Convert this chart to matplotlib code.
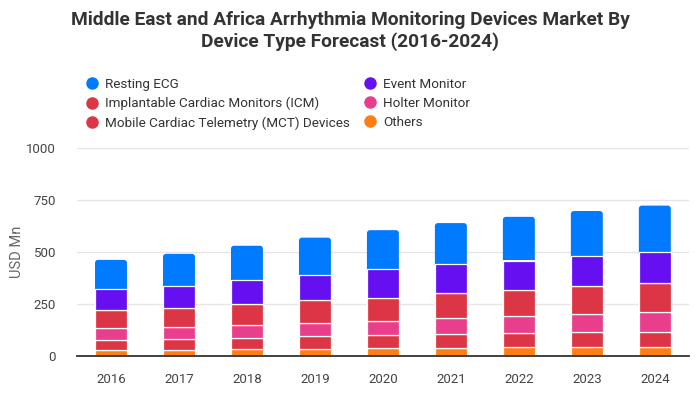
import matplotlib
matplotlib.use("Agg")
from matplotlib import pyplot as plt
from matplotlib.patches import FancyBboxPatch
from matplotlib.lines import Line2D
import numpy as np

plt.rcParams["font.family"] = ["Roboto", "DejaVu Sans"]

# data (USD Mn)
years = ["2016", "2017", "2018", "2019", "2020", "2021", "2022", "2023", "2024"]
others = [27, 27, 34, 32, 37, 37, 43, 43, 43]
mct = [50, 53, 51, 64, 62, 67, 67, 71, 71]
holter = [56, 58, 63, 63, 67, 79, 80, 88, 96]
icm = [87, 91, 101, 110, 115, 118, 126, 133, 141]
event = [101, 108, 115, 119, 135, 140, 143, 144, 147]
resting = [141, 154, 166, 181, 189, 198, 210, 218, 225]

c_blue = "#007bff"
c_purple = "#6610f2"
c_red = "#dc3545"
c_pink = "#e83e8c"
c_orange = "#fd7e14"

fig = plt.figure(figsize=(7, 4), dpi=100)
ax = fig.add_axes([0.11, 0.11, 0.874, 0.52])

x = np.arange(len(years))
w = 0.47

# stack from the bottom up
stack = [(others, c_orange), (mct, c_red), (holter, c_pink), (icm, c_red), (event, c_purple)]
bottom = np.zeros(len(years))
for vals, col in stack:
    ax.bar(x, vals, w, bottom=bottom, color=col, edgecolor="white", linewidth=0.9, zorder=3)
    bottom = bottom + np.array(vals)

# top segment with rounded top corners
ypx = 1000 / 208.0
xpx = 1 / 68.0
for xi, b, v in zip(x, bottom, resting):
    p = FancyBboxPatch((xi - w / 2, b - 20), w, v + 20,
                       boxstyle="round,pad=0,rounding_size=%f" % (3 * xpx),
                       mutation_aspect=ypx / xpx,
                       facecolor=c_blue, edgecolor="none", zorder=2)
    ax.add_patch(p)
ax.bar(x, [2] * len(years), w, bottom=bottom - 1, color="white", linewidth=0, zorder=2.5)

ax.set_xlim(-0.5, len(years) - 0.5)
ax.set_ylim(0, 1000)
ax.set_yticks([0, 250, 500, 750, 1000])
ax.set_xticks(x)
ax.set_xticklabels(years)
ax.tick_params(axis="both", length=0, labelsize=9.5, labelcolor="#444444")
ax.tick_params(axis="x", pad=12)
ax.tick_params(axis="y", pad=15)
ax.grid(axis="y", color="#e6e6e6", linewidth=1, zorder=0)
ax.set_axisbelow(True)
for s in ["top", "right", "left"]:
    ax.spines[s].set_visible(False)
ax.spines["bottom"].set_color("#333333")
ax.spines["bottom"].set_linewidth(1.3)
ax.spines["bottom"].set_zorder(4)
ax.set_ylabel("USD Mn", fontsize=10.5, color="#666666")
ax.yaxis.set_label_coords(-0.087, 0.5)

fig.text(0.5, 0.972, "Middle East and Africa Arrhythmia Monitoring Devices Market By\nDevice Type Forecast (2016-2024)",
         ha="center", va="top", fontsize=13.8, fontweight="bold", color="#333333",
         linespacing=1.2)

# legend, column-major order
names = ["Resting ECG", "Implantable Cardiac Monitors (ICM)", "Mobile Cardiac Telemetry (MCT) Devices",
         "Event Monitor", "Holter Monitor", "Others"]
cols = [c_blue, c_red, c_red, c_purple, c_pink, c_orange]
handles = [Line2D([], [], marker="o", linestyle="none", markersize=9, markerfacecolor=c,
                  markeredgecolor="none") for c in cols]
fig.legend(handles, names, ncol=2, loc="upper left", bbox_to_anchor=(0.122, 0.805),
           frameon=False, fontsize=9.7, labelcolor="#333333", handletextpad=0.45,
           columnspacing=1.0, labelspacing=0.45, handlelength=1.0, borderpad=0, borderaxespad=0)

plt.savefig("out.png", dpi=100)
